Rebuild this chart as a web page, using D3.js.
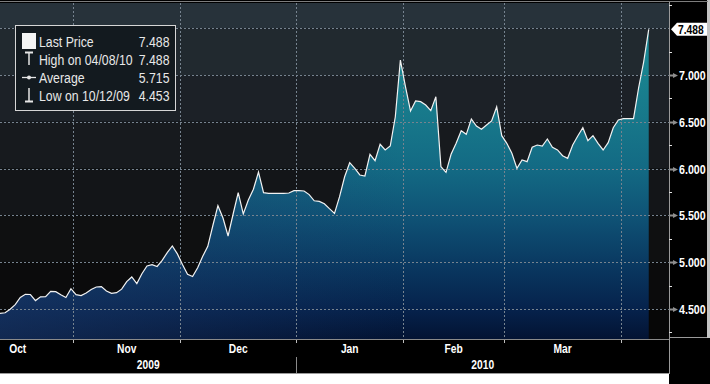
<!DOCTYPE html>
<html><head><meta charset="utf-8">
<script src="https://cdn.jsdelivr.net/npm/d3@7"></script>
<style>
html,body{margin:0;padding:0;background:#fff;overflow:hidden;}
svg{display:block;}
</style></head>
<body><svg id="c" width="710" height="384"></svg>
<script>
// ---------- data ----------
const startDate = "2009-10-12";           // first trading day shown (weekdays only)
const prices = [
 4.453,4.460,4.498,4.546,4.623,4.657,4.655,4.590,4.630,4.632,
 4.689,4.685,4.652,4.623,4.717,4.654,4.643,4.671,4.709,4.735,
 4.740,4.692,4.668,4.674,4.712,4.792,4.842,4.772,4.877,4.960,
 4.974,4.954,5.019,5.103,5.173,5.089,4.976,4.871,4.847,4.940,
 5.063,5.169,5.392,5.604,5.472,5.280,5.515,5.743,5.515,5.665,
 5.779,5.964,5.743,5.736,5.736,5.736,5.736,5.739,5.764,5.764,
 5.761,5.722,5.656,5.650,5.625,5.572,5.522,5.700,5.913,6.063,
 6.003,5.932,5.921,6.153,6.084,6.260,6.199,6.241,6.554,7.160,
 6.875,6.615,6.722,6.715,6.679,6.619,6.768,6.020,5.960,6.153,
 6.270,6.405,6.366,6.530,6.455,6.420,6.466,6.509,6.661,6.352,
 6.270,6.163,6.003,6.092,6.074,6.228,6.252,6.241,6.316,6.228,
 6.199,6.138,6.110,6.252,6.348,6.437,6.298,6.352,6.270,6.199,
 6.277,6.437,6.519,6.533,6.533,6.533,6.861,7.139,7.488
];
const yTicks = [4.5, 5.0, 5.5, 6.0, 6.5, 7.0];
const yGrid = [4.5, 5.0, 5.5, 6.0, 6.5, 7.0, 7.5];
const yMinor = [4.25, 4.75, 5.25, 5.75, 6.25, 6.75, 7.25, 7.75];
const legendLabels = ["Last Price", "High on 04/08/10", "Average", "Low on 10/12/09"];
const legendValues = ["7.488", "7.488", "5.715", "4.453"];
const lastPriceLabel = "7.488";
const bgBandColors = ["#27323a","#21292f","#1c2127","#171a1e","#131518","#0f1011","#0b0b0c","#070707"];
const fillStopColors = ["#1b8d9c","#19828f","#17778a","#136a84","#0f5376","#0a3a62","#06224c","#031333"];

// ---------- layout ----------
const W = 710, H = 384;
const plotL = 0, plotR = 669, plotT = 3, plotB = 339;
const svg = d3.select("#c");
const SX = 0.82; // narrow-font emulation

function txt(parent, x, y, s, o) {
  return parent.append("text")
    .attr("transform", `translate(${x},${y}) scale(${SX},1)`)
    .attr("text-anchor", o.anchor || "start")
    .attr("dy", o.dy || null)
    .attr("font-family", "'Liberation Sans', Arial, sans-serif")
    .attr("font-weight", o.bold ? "bold" : "normal")
    .attr("font-size", o.size)
    .attr("fill", o.fill || "#fff")
    .text(s);
}

function weekdays(from, to) {
  const out = []; const d = new Date(from);
  while (d < to) { const w = d.getDay(); if (w !== 0 && w !== 6) out.push(new Date(d)); d.setDate(d.getDate() + 1); }
  return out;
}
const p0 = d3.timeParse("%Y-%m-%d")(startDate);
const cal = weekdays(new Date(2009, 9, 1), new Date(2010, 4, 1));
const offset = cal.findIndex(d => +d === +p0);
const calIdx = cal.map((d, k) => ({ d, i: k - offset }));

const x = d3.scaleLinear().domain([0, 132]).range([plotL, plotR]);
const y = d3.scaleLinear().domain([4.5, 7.0]).range([309, 75]);

// overall background
svg.append("rect").attr("width", W).attr("height", H).attr("fill", "#000");
svg.append("rect").attr("x", 0).attr("y", 374).attr("width", plotR).attr("height", H - 374).attr("fill", "#fff");
svg.append("rect").attr("x", 707).attr("y", 0).attr("width", 3).attr("height", 338).attr("fill", "#c4c4c4");

// background bands
const bandEdges = [plotT, ...yGrid.slice().reverse().map(v => y(v)), plotB];
for (let k = 0; k < bandEdges.length - 1; k++) {
  svg.append("rect").attr("x", plotL).attr("y", bandEdges[k]).attr("width", plotR - plotL)
    .attr("height", bandEdges[k + 1] - bandEdges[k]).attr("fill", bgBandColors[k]);
}

// gradients for area
const defs = svg.append("defs");
const g = defs.append("linearGradient").attr("id", "fillg").attr("gradientUnits", "userSpaceOnUse")
  .attr("x1", 0).attr("x2", 0).attr("y1", plotT).attr("y2", plotB);
const stopVals = [7.5, 7.0, 6.5, 6.0, 5.5, 5.0, 4.5];
stopVals.forEach((v, k) => g.append("stop").attr("offset", (y(v) - plotT) / (plotB - plotT)).attr("stop-color", fillStopColors[k]));
g.append("stop").attr("offset", 1).attr("stop-color", fillStopColors[7]);
const gh = defs.append("linearGradient").attr("id", "tint").attr("gradientUnits", "userSpaceOnUse")
  .attr("x1", 0).attr("x2", 400).attr("y1", 0).attr("y2", 0);
gh.append("stop").attr("offset", 0).attr("stop-color", "#1d3a6a").attr("stop-opacity", 0.55);
gh.append("stop").attr("offset", 1).attr("stop-color", "#1d3a6a").attr("stop-opacity", 0);

// month structure
const months = d3.groups(calIdx, e => e.d.getFullYear() * 12 + e.d.getMonth()).map(([key, arr]) => ({
  date: arr[0].d, first: d3.min(arr, e => e.i), last: d3.max(arr, e => e.i)
}));
const fmtMonth = d3.timeFormat("%b");

// area + line
const area = d3.area().x((d, i) => x(i)).y0(plotB).y1(d => y(d));
const line = d3.line().x((d, i) => x(i)).y(d => y(d));
svg.append("path").datum(prices).attr("d", area).attr("fill", "url(#fillg)");
svg.append("path").datum(prices).attr("d", area).attr("fill", "url(#tint)");

// grid lines
const gridCol = "#76838f";
yGrid.forEach(v => {
  svg.append("line").attr("x1", plotL).attr("x2", plotR).attr("y1", Math.round(y(v)) + 0.5).attr("y2", Math.round(y(v)) + 0.5)
    .attr("stroke", gridCol).attr("stroke-width", 1).attr("stroke-dasharray", "2,2");
});
months.filter(m => m.first > 0 && x(m.first - 0.5) < plotR).forEach(m => {
  const xx = Math.round(x(m.first - 0.5)) + 0.5;
  svg.append("line").attr("x1", xx).attr("x2", xx).attr("y1", plotT).attr("y2", plotB)
    .attr("stroke", gridCol).attr("stroke-width", 1).attr("stroke-dasharray", "2,2");
  svg.append("line").attr("x1", xx).attr("x2", xx).attr("y1", plotB).attr("y2", plotB + 4)
    .attr("stroke", "#bdbdbd").attr("stroke-width", 1);
});

svg.append("path").datum(prices).attr("d", line).attr("fill", "none").attr("stroke", "#f2f2f2").attr("stroke-width", 1.2);

// frame lines
svg.append("line").attr("x1", 0).attr("x2", 708).attr("y1", 1.5).attr("y2", 1.5).attr("stroke", "#7d7d7d");
svg.append("line").attr("x1", 0).attr("x2", plotR).attr("y1", plotB + 0.5).attr("y2", plotB + 0.5).attr("stroke", "#8a8a8a");
svg.append("line").attr("x1", 0).attr("x2", plotR).attr("y1", 373.5).attr("y2", 373.5).attr("stroke", "#9a9a9a");
svg.append("line").attr("x1", plotR + 0.5).attr("x2", plotR + 0.5).attr("y1", 2).attr("y2", 374).attr("stroke", "#9a9a9a");
svg.append("line").attr("x1", plotR).attr("x2", 707).attr("y1", 337.5).attr("y2", 337.5).attr("stroke", "#9a9a9a");

// right axis
yMinor.forEach(v => {
  svg.append("line").attr("x1", plotR).attr("x2", plotR + 3).attr("y1", Math.round(y(v)) + 0.5).attr("y2", Math.round(y(v)) + 0.5)
    .attr("stroke", "#e0e0e0");
});
yTicks.forEach(v => {
  const yy = Math.round(y(v)) + 0.5;
  svg.append("path").attr("d", `M${plotR},${yy - 1}L${plotR + 4},${yy - 1}L${plotR + 4},${yy - 2.5}L${plotR + 9},${yy}L${plotR + 4},${yy + 2.5}L${plotR + 4},${yy + 1}L${plotR},${yy + 1}Z`)
    .attr("fill", "#8e8e8e");
  txt(svg, plotR + 10, yy, d3.format(".3f")(v), { bold: true, size: 13, dy: "0.36em" });
});
// last price tag
const ly = y(+lastPriceLabel);
svg.append("path").attr("d", `M${plotR + 2},${ly}L${plotR + 8},${ly - 6.5}L707,${ly - 6.5}L707,${ly + 6.5}L${plotR + 8},${ly + 6.5}Z`)
  .attr("fill", "#fff");
txt(svg, plotR + 9, ly, lastPriceLabel, { bold: true, size: 12.5, dy: "0.36em", fill: "#000" });

// bottom axis labels
months.forEach(m => {
  const cx = x((m.first + m.last) / 2);
  if (cx < plotL || cx > plotR - 8) return;
  txt(svg, cx, 353, fmtMonth(m.date), { bold: true, size: 12.5, anchor: "middle" });
});
const years = d3.groups(months, m => m.date.getFullYear()).map(([yr, ms]) => ({
  yr, a: Math.max(plotL, x(d3.min(ms, m => m.first) - 0.5)), b: Math.min(plotR, x(d3.max(ms, m => m.last) + 0.5))
})).filter(e => e.b > e.a + 20);
years.forEach((e, k) => {
  txt(svg, (e.a + e.b) / 2, 369, String(e.yr), { bold: true, size: 12.5, anchor: "middle" });
  if (k > 0) {
    const xx = Math.round(e.a) + 0.5;
    svg.append("line").attr("x1", xx).attr("x2", xx).attr("y1", 357).attr("y2", 373).attr("stroke", "#8a8a8a");
  }
});

// legend
const lg = svg.append("g");
lg.append("rect").attr("x", 15.5).attr("y", 25.5).attr("width", 160).attr("height", 85)
  .attr("fill", "#131a1f").attr("stroke", "#d6d6d6").attr("stroke-width", 1);
const rowY = [46.5, 64.5, 82.5, 100.5];
legendLabels.forEach((t, k) => {
  txt(lg, 39, rowY[k], t, { size: 15, fill: "#e8e8e8" });
  txt(lg, 169.5, rowY[k], legendValues[k], { size: 15, fill: "#e8e8e8", anchor: "end" });
});
const ic = "#e6e6e6";
lg.append("rect").attr("x", 22).attr("y", 33).attr("width", 14).attr("height", 16).attr("fill", "#f4f4f4");
lg.append("line").attr("x1", 25).attr("x2", 33).attr("y1", 52.5).attr("y2", 52.5).attr("stroke", ic).attr("stroke-width", 2);
lg.append("line").attr("x1", 29).attr("x2", 29).attr("y1", 52).attr("y2", 65).attr("stroke", ic).attr("stroke-width", 1.5);
lg.append("line").attr("x1", 22).attr("x2", 36).attr("y1", 77.5).attr("y2", 77.5).attr("stroke", ic).attr("stroke-width", 1.3);
lg.append("circle").attr("cx", 29).attr("cy", 77.5).attr("r", 2).attr("fill", ic);
lg.append("line").attr("x1", 29).attr("x2", 29).attr("y1", 88).attr("y2", 101).attr("stroke", ic).attr("stroke-width", 1.5);
lg.append("line").attr("x1", 25).attr("x2", 33).attr("y1", 101.5).attr("y2", 101.5).attr("stroke", ic).attr("stroke-width", 2);
</script>
</body></html>
